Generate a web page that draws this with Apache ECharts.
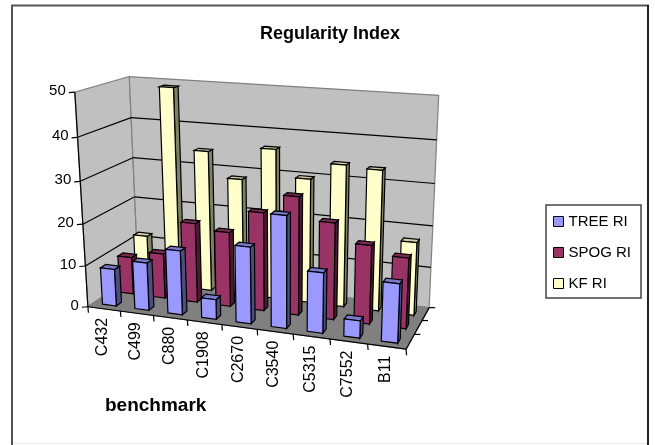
<!DOCTYPE html>
<html><head><meta charset="utf-8">
<style>html,body{margin:0;padding:0;background:#fff}#c{width:655px;height:445px}</style>
<script src="https://cdn.jsdelivr.net/npm/echarts@6/dist/echarts.min.js"></script>
</head><body><div id="c"></div>
<script>
const categories = ['C432','C499','C880','C1908','C2670','C3540','C5315','C7552','B11'];
const treeRI = [9, 11.5, 15.3, 4.7, 18, 26, 14, 4, 13.5];
const spogRI = [9.2, 11, 19.3, 18, 23.5, 28, 22.8, 18.5, 16.5];
const kfRI = [12, 49, 34.5, 28.5, 36.3, 30, 34, 33.5, 17.5];
const yTicks = [0, 10, 20, 30, 40, 50];
const FONT = '"Liberation Sans", Arial, sans-serif';

// 3D view: unit-cube corners of the plot box and where they appear on the page
const viewPairs = [
  [0,0,0, 85,307],[0,1,0, 77,93],[0,0,1, 141,272],[0,1,1, 127,76],
  [1,0,1, 428,309],[1,1,1, 439,95],[1,0,0, 407,348]
];
function solveView(pairs){
  const n=11, A=Array.from({length:n},()=>new Array(n+1).fill(0));
  const add=(r,b)=>{for(let i=0;i<n;i++){for(let j=0;j<n;j++)A[i][j]+=r[i]*r[j];A[i][n]+=r[i]*b;}};
  pairs.forEach(([X,Y,Z,u,v])=>{
    add([X,Y,Z,1,0,0,0,0,-u*X,-u*Y,-u*Z],u);
    add([0,0,0,0,X,Y,Z,1,-v*X,-v*Y,-v*Z],v);
  });
  for(let c=0;c<n;c++){
    let m=c;for(let r=c+1;r<n;r++)if(Math.abs(A[r][c])>Math.abs(A[m][c]))m=r;
    [A[c],A[m]]=[A[m],A[c]];
    for(let r=0;r<n;r++){if(r===c)continue;const f=A[r][c]/A[c][c];for(let k=c;k<=n;k++)A[r][k]-=f*A[c][k];}
  }
  return A.map((row,i)=>row[n]/row[i]);
}
const M=solveView(viewPairs);
function P(x,y,z){
  const d=M[8]*x+M[9]*y+M[10]*z+1;
  return [(M[0]*x+M[1]*y+M[2]*z+M[3])/d,(M[4]*x+M[5]*y+M[6]*z+M[7])/d];
}
const G={left:100,top:40,width:360,height:300};
const yMax=yTicks[yTicks.length-1];
const BAR_W=0.43, Z_FRONT=0.3, Z_BACK=0.6, ROWS=3;
const poly=(pts,fill,stroke,lw)=>({type:'polygon',shape:{points:pts},style:{fill,stroke:stroke||'#000',lineWidth:lw==null?1.2:lw}});
const seg=(a,b,c,lw)=>({type:'line',shape:{x1:a[0],y1:a[1],x2:b[0],y2:b[1]},style:{stroke:c||'#000',lineWidth:lw||1.2}});
const txt=(t,x,y,o)=>({type:'text',x,y,rotation:(o&&o.rot)||0,style:{text:t,x:0,y:0,fill:'#000',font:((o&&o.size)||15)+'px '+FONT,align:(o&&o.align)||'center',verticalAlign:'middle'}});

function barRenderer(row,front,side,top){
  return function(params,api){
    const c=api.coord([api.value(0),api.value(1)]);
    const cellW=api.size([1,0])[0]/G.width;
    const u=(c[0]-G.left)/G.width;
    const h=(G.top+G.height-c[1])/G.height;
    const x0=u-cellW*BAR_W/2,x1=u+cellW*BAR_W/2;
    const z0=(row+Z_FRONT)/ROWS,z1=(row+Z_BACK)/ROWS;
    return {type:'group',children:[
      poly([P(x1,0,z0),P(x1,0,z1),P(x1,h,z1),P(x1,h,z0)],side),
      poly([P(x0,h,z0),P(x1,h,z0),P(x1,h,z1),P(x0,h,z1)],top),
      poly([P(x0,0,z0),P(x1,0,z0),P(x1,h,z0),P(x0,h,z0)],front)
    ]};
  };
}
function frameRenderer(params,api){
  const ch=[];
  const A=P(0,0,0),C=P(0,0,1),E=P(1,0,1),Gd=P(1,0,0);
  ch.push(poly([P(0,0,0),P(0,1,0),P(0,1,1),P(0,0,1)],'#c0c0c0','#808080'));
  ch.push(poly([P(0,0,1),P(0,1,1),P(1,1,1),P(1,0,1)],'#c0c0c0','#808080'));
  ch.push(poly([A,C,E,Gd],'#808080','#808080'));
  yTicks.forEach(t=>{
    const c=api.coord([0,t]);
    const y=(G.top+G.height-c[1])/G.height;
    if(t>0&&t<yMax){ch.push(seg(P(0,y,0),P(0,y,1)));ch.push(seg(P(0,y,1),P(1,y,1)));}
    const a=P(0,y,0);
    ch.push(seg(a,[a[0]-6,a[1]+0.5]));
    ch.push(txt(String(t),a[0]-9,a[1]-1,{align:'right'}));
  });
  ch.push(seg(P(0,0,0),P(0,1,0)));
  ch.push(seg(A,Gd));ch.push(seg(Gd,E));
  const n=categories.length;
  for(let i=0;i<=n;i++){const a=P(i/n,0,0);ch.push(seg(a,[a[0]+0.5,a[1]+6]));}
  for(let k=1;k<=ROWS;k++){const a=P(1,0,k/ROWS);ch.push(seg(a,[a[0]+6,a[1]]));}
  categories.forEach((name,i)=>{
    const a=P((i+0.5)/n,0,0);
    ch.push(txt(name,a[0]-1,a[1]+9,{align:'right',rot:Math.PI/2,size:16}));
  });
  return {type:'group',children:ch};
}
const sData=a=>a.map((v,i)=>[i,v]);
const chart=echarts.init(document.getElementById('c'),null,{renderer:'canvas'});
chart.setOption({
  animation:false,
  backgroundColor:'#fff',
  title:{text:'Regularity Index',left:325,top:20,textAlign:'center',textStyle:{fontFamily:FONT,fontSize:18,fontWeight:'bold',color:'#000'}},
  grid:{left:G.left,top:G.top,width:G.width,height:G.height},
  xAxis:{type:'category',data:categories,show:false},
  yAxis:{type:'value',min:0,max:yMax,interval:10,show:false},
  legend:{orient:'vertical',left:546,top:205,padding:[9,10,7,7],itemGap:16,itemWidth:10,itemHeight:10,icon:'rect',
    data:['TREE RI','SPOG RI','KF RI'],borderColor:'#444',borderWidth:1.5,
    itemStyle:{borderColor:'#000',borderWidth:1},
    textStyle:{fontFamily:FONT,fontSize:15,color:'#000'}},
  graphic:[
    {type:'line',silent:true,shape:{x1:11,y1:5.5,x2:649,y2:5.5},style:{stroke:'#555',lineWidth:2}},
    {type:'line',silent:true,shape:{x1:12,y1:5,x2:12,y2:445},style:{stroke:'#555',lineWidth:2}},
    {type:'line',silent:true,shape:{x1:648,y1:5,x2:648,y2:445},style:{stroke:'#222',lineWidth:2}},
    {type:'line',silent:true,shape:{x1:13,y1:443.5,x2:647,y2:443.5},style:{stroke:'#e8e8e8',lineWidth:1}},
    {type:'text',left:105,top:396,silent:true,style:{text:'benchmark',fill:'#000',font:'bold 19px '+FONT}}
  ],
  series:[
    {name:'frame',type:'custom',z:1,silent:true,data:[[0,0]],clip:false,renderItem:frameRenderer,tooltip:{show:false}},
    {name:'TREE RI',type:'custom',z:5,silent:true,clip:false,itemStyle:{color:'#9999ff'},data:sData(treeRI),renderItem:barRenderer(0,'#9999ff','#4d4d80','#7a7acc')},
    {name:'SPOG RI',type:'custom',z:4,silent:true,clip:false,itemStyle:{color:'#993366'},data:sData(spogRI),renderItem:barRenderer(1,'#993366','#4d1a33','#7a2952')},
    {name:'KF RI',type:'custom',z:3,silent:true,clip:false,itemStyle:{color:'#ffffcc'},data:sData(kfRI),renderItem:barRenderer(2,'#ffffcc','#808066','#cccca3')}
  ]
});
</script></body></html>
